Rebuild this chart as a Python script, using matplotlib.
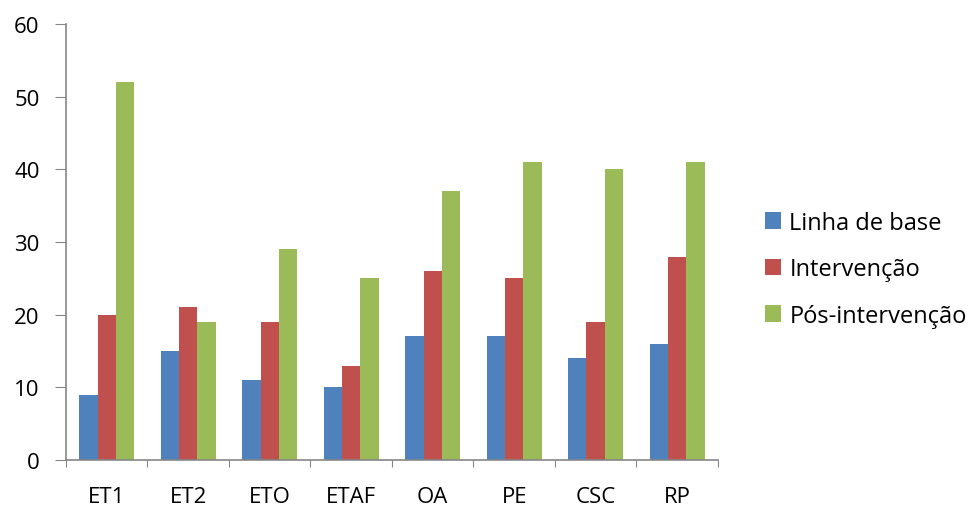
import numpy as np
import matplotlib.pyplot as plt
from matplotlib.patches import Patch

plt.rcParams['font.family'] = ['Open Sans', 'DejaVu Sans']

# Categorias e valores de cada fase
categorias = ['ET1', 'ET2', 'ETO', 'ETAF', 'OA', 'PE', 'CSC', 'RP']
linha_base = [9, 15, 11, 10, 17, 17, 14, 16]
intervencao = [20, 21, 19, 13, 26, 25, 19, 28]
pos_intervencao = [52, 19, 29, 25, 37, 41, 40, 41]

series = ['Linha de base', 'Intervenção', 'Pós-intervenção']
cores = ['#4F81BD', '#C0504D', '#9BBB59']

fig = plt.figure(figsize=(9.73, 5.10), dpi=100)
ax = fig.add_axes([0.0678, 0.096, 0.670, 0.855])

x = np.arange(len(categorias))
largura = 0.225
for i, (valores, cor) in enumerate(zip([linha_base, intervencao, pos_intervencao], cores)):
    ax.bar(x + (i - 1) * largura, valores, largura, color=cor, edgecolor='none')

ax.set_xlim(-0.5, len(categorias) - 0.5)
ax.set_ylim(0, 60)
ax.set_yticks(range(0, 61, 10))

# Marcas do eixo X entre as categorias, rótulos no centro
ax.set_xticks(np.arange(-0.5, len(categorias), 1.0))
ax.set_xticklabels([])
ax.set_xticks(x, minor=True)
ax.set_xticklabels(categorias, minor=True)
ax.tick_params(axis='x', which='minor', length=0, pad=19, labelsize=16)
ax.tick_params(axis='x', which='major', length=5, color='#868686')
ax.tick_params(axis='y', length=8, color='#868686', pad=11, labelsize=16)

for lado in ['top', 'right']:
    ax.spines[lado].set_visible(False)
for lado in ['left', 'bottom']:
    ax.spines[lado].set_color('#868686')
    ax.spines[lado].set_linewidth(1.2)

# Legenda à direita
handles = [Patch(facecolor=c, edgecolor='none') for c in cores]
fig.legend(handles, series, loc='center left', bbox_to_anchor=(0.764, 0.47),
           frameon=False, fontsize=17, handlelength=0.7, handleheight=0.7,
           handletextpad=0.35, labelspacing=0.95)

fig.savefig('out.png', dpi=100)
